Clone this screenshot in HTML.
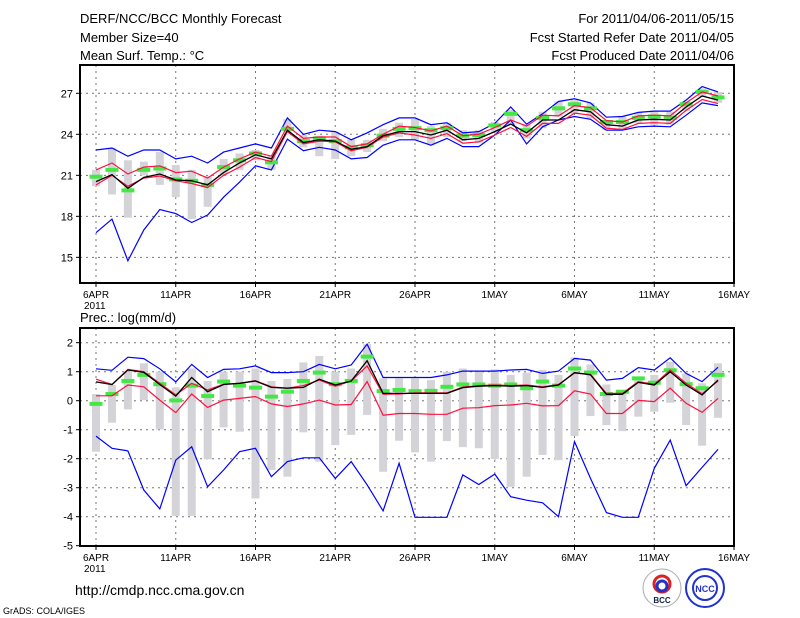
<!DOCTYPE html>
<html><head><meta charset="utf-8"><style>
body{margin:0;background:#fff;}
svg{display:block;font-family:"Liberation Sans",sans-serif;}
</style></head><body>
<svg id="c" width="800" height="618" viewBox="0 0 800 618">
<text x="80" y="23" font-size="13">DERF/NCC/BCC Monthly Forecast</text>
<text x="80" y="42" font-size="13">Member Size=40</text>
<text x="80" y="60" font-size="13">Mean Surf. Temp.: °C</text>
<text x="734" y="23" font-size="13" text-anchor="end">For 2011/04/06-2011/05/15</text>
<text x="734" y="42" font-size="13" text-anchor="end">Fcst Started Refer Date 2011/04/05</text>
<text x="734" y="60" font-size="13" text-anchor="end">Fcst Produced Date 2011/04/06</text>
<text x="80" y="322" font-size="13">Prec.: log(mm/d)</text>
<text x="75" y="595" font-size="14">http://cmdp.ncc.cma.gov.cn</text>
<text x="3" y="614" font-size="9">GrADS: COLA/IGES</text>
<g><circle cx="662" cy="588" r="19" fill="#fff" stroke="#aaa"/><circle cx="662" cy="584" r="8" fill="none" stroke="#d22" stroke-width="3"/><circle cx="662" cy="586" r="5" fill="none" stroke="#23c" stroke-width="3"/><text x="662" y="603" font-size="8" font-weight="bold" text-anchor="middle" fill="#124">BCC</text></g>
<g><circle cx="705" cy="588" r="19" fill="#fff" stroke="#23c" stroke-width="2"/><circle cx="705" cy="588" r="12" fill="none" stroke="#23c" stroke-width="2"/><text x="705" y="592" font-size="9" font-weight="bold" text-anchor="middle" fill="#23c">NCC</text></g>
</svg>
<script>
const days=40;
const xLabels=["6APR","11APR","16APR","21APR","26APR","1MAY","6MAY","11MAY","16MAY"];
const tTicks=[15,18,21,24,27];
const pTicks=[-5,-4,-3,-2,-1,0,1,2];
// Temperature
const tBlueHi=[22.85,23.0,22.4,22.85,22.85,22.2,22.4,21.9,22.7,23.0,23.3,23.0,25.2,24.0,24.3,24.2,23.6,24.1,24.7,25.2,25.2,24.7,24.85,24.1,24.2,24.8,26.0,24.75,25.5,26.4,26.6,26.3,25.25,25.3,25.6,25.7,25.7,26.5,27.5,27.1];
const tBlueLo=[16.8,17.8,14.75,17.0,18.5,18.2,17.55,18.1,19.4,20.5,21.7,21.4,23.65,22.8,23.05,22.85,22.2,22.3,23.2,23.6,23.6,23.2,23.7,23.1,23.1,23.95,25.05,23.3,24.55,25.05,25.3,25.1,24.3,24.3,24.55,24.6,24.55,25.4,26.3,26.1];
const tRedHi=[21.4,21.9,21.1,21.6,21.7,21.2,21.3,20.8,21.6,22.2,22.7,22.4,24.6,23.7,23.8,23.8,23.1,23.3,24.0,24.6,24.5,24.25,24.6,23.9,24.0,24.5,25.05,24.6,25.4,25.35,26.1,25.95,25.0,24.9,25.35,25.4,25.35,26.3,27.1,26.8];
const tRedLo=[20.3,21.0,20.2,20.8,20.95,20.6,20.4,20.1,21.0,21.6,22.3,22.0,24.2,23.3,23.5,23.45,22.8,23.05,23.8,24.1,23.95,23.7,24.05,23.35,23.45,23.95,24.5,23.85,24.8,24.8,25.55,25.4,24.45,24.35,24.8,24.85,24.8,25.75,26.55,26.25];
const tMean=[20.54,21.05,20.05,20.85,21.1,20.66,20.6,20.3,21.2,21.9,22.5,22.2,24.3,23.4,23.6,23.5,22.9,23.1,23.9,24.2,24.2,23.95,24.3,23.6,23.7,24.2,24.75,24.1,25.05,25.05,25.8,25.65,24.7,24.6,25.05,25.1,25.05,26.0,26.8,26.5];
const tObs=[20.9,21.4,19.9,21.4,21.5,20.7,20.6,20.3,21.6,22.1,22.6,21.95,24.4,23.5,23.7,23.5,23.05,23.2,23.9,24.4,24.45,24.3,24.45,23.9,23.95,24.65,25.5,24.3,25.2,25.9,26.2,25.9,24.9,24.9,25.2,25.3,25.2,26.2,27.1,26.7];
const tBarHi=[21.4,23.0,22.1,22.0,22.7,21.75,21.4,20.95,22.2,22.6,22.85,22.4,25.1,23.95,23.9,24.2,23.6,23.6,24.4,24.85,25.1,24.6,24.85,24.3,24.3,24.9,25.8,24.75,25.65,26.4,26.5,26.3,24.95,25.3,25.6,25.7,25.65,26.4,27.35,27.1];
const tBarLo=[20.2,19.6,17.9,21.0,20.3,19.4,17.8,18.7,21.0,21.4,22.1,21.4,24.2,23.05,22.4,22.2,22.4,22.7,23.5,23.8,23.6,23.3,23.8,23.5,23.35,24.2,24.7,23.7,24.45,25.3,25.5,25.15,24.3,24.3,24.85,24.7,24.7,25.7,26.75,26.3];
// Precipitation
const pBlueHi=[1.1,1.05,1.5,1.45,1.1,0.65,1.25,0.8,1.08,1.1,1.2,0.97,0.97,1.0,1.25,1.1,1.23,1.95,0.8,0.8,0.8,0.8,0.89,1.02,1.02,1.02,1.06,1.08,0.94,1.02,1.46,1.4,0.71,0.77,1.14,1.06,1.48,0.94,0.66,1.15];
const pBlueLo=[-1.22,-1.64,-1.73,-3.08,-3.73,-2.05,-1.59,-2.97,-2.39,-1.76,-1.64,-2.62,-2.1,-1.97,-1.97,-2.68,-2.1,-2.9,-3.8,-2.16,-4.02,-4.02,-4.02,-2.56,-2.89,-2.53,-3.31,-3.43,-3.52,-4.0,-1.41,-2.68,-3.86,-4.02,-4.02,-2.33,-1.36,-2.93,-2.3,-1.68];
const pRedHi=[0.74,0.56,1.08,1.0,0.6,0.2,0.6,0.37,0.57,0.6,0.69,0.48,0.43,0.52,0.71,0.5,0.68,1.2,0.22,0.23,0.27,0.27,0.27,0.47,0.52,0.54,0.52,0.54,0.48,0.56,0.95,0.91,0.25,0.25,0.66,0.57,1.06,0.6,0.24,0.68];
const pRedLo=[0.17,0.17,0.54,0.48,0.02,-0.41,0.23,-0.23,0.02,0.08,0.14,-0.11,-0.2,-0.11,0.02,-0.15,-0.13,0.66,-0.5,-0.44,-0.44,-0.47,-0.47,-0.26,-0.24,-0.17,-0.15,-0.09,-0.18,-0.17,0.34,0.23,-0.44,-0.44,0.01,-0.03,0.43,-0.09,-0.4,0.08];
const pMean=[0.65,0.56,1.06,0.98,0.56,0.16,0.8,0.31,0.56,0.6,0.68,0.46,0.43,0.46,0.74,0.54,0.68,1.38,0.25,0.25,0.25,0.25,0.25,0.45,0.5,0.52,0.5,0.52,0.46,0.54,0.97,0.89,0.22,0.22,0.63,0.54,1.0,0.54,0.2,0.71];
const pObs=[-0.11,0.23,0.68,0.89,0.57,0.01,0.52,0.16,0.66,0.52,0.45,0.14,0.31,0.68,0.97,0.57,0.68,1.52,0.33,0.37,0.33,0.34,0.48,0.56,0.56,0.52,0.56,0.43,0.66,0.52,1.11,0.97,0.23,0.31,0.77,0.62,1.05,0.57,0.43,0.89];
const pBarHi=[0.23,0.54,1.0,1.29,1.0,0.46,1.11,0.68,1.0,1.0,1.11,0.68,0.75,1.32,1.54,1.0,1.11,1.95,0.77,0.77,0.77,0.71,1.0,1.11,1.0,1.08,0.89,0.97,1.06,0.89,1.49,1.25,0.56,0.37,0.77,0.89,1.34,0.94,0.6,1.29];
const pBarLo=[-1.76,-0.76,-0.3,0.02,-0.99,-3.97,-3.97,-2.02,-0.92,-1.07,-3.37,-2.39,-2.62,-1.09,-2.1,-1.53,-1.18,-0.49,-2.45,-1.38,-1.78,-2.1,-1.39,-1.6,-1.64,-2.01,-2.97,-2.62,-1.87,-2.05,-1.22,-0.53,-0.84,-1.05,-0.55,-0.38,-0.07,-0.84,-1.55,-0.59];

const svg=document.getElementById('c');
const NS='http://www.w3.org/2000/svg';
function mk(tag,attrs,parent){const e=document.createElementNS(NS,tag);for(const k in attrs)e.setAttribute(k,attrs[k]);(parent||svg).appendChild(e);return e;}
const X0=96,DX=(734-96)/40;
function xs(i){return X0+i*DX;}

function panel(cfg){
  const g=mk('g',{});
  
  
  const ys=v=>cfg.y0+(cfg.v0-v)*cfg.k;
  // gridlines
  cfg.ticks.forEach(t=>{
    const y=ys(t);
    if(y>cfg.top+2&&y<cfg.bot-2){const l=mk('line',{x1:80,x2:734,y1:y,y2:y,stroke:'#777','stroke-dasharray':'2,4'},g);
      
      }
    const tl=mk('line',{x1:76,x2:80,y1:y,y2:y,stroke:'#000'},g);
    
    
    const tx=mk('text',{x:73,y:y+4,'font-size':11,'text-anchor':'end'},g);
    tx.textContent=t;
    
    
  });
  xLabels.forEach((s,j)=>{
    const x=xs(j*5);
    if(j>0&&j<8){const l=mk('line',{x1:x,x2:x,y1:cfg.top,y2:cfg.bot,stroke:'#777','stroke-dasharray':'2,4'},g);
      
      }
    else if(j==0){const l=mk('line',{x1:x,x2:x,y1:cfg.top,y2:cfg.bot,stroke:'#777','stroke-dasharray':'2,4'},g);
      
      }
    const tk=mk('line',{x1:x,x2:x,y1:cfg.bot,y2:cfg.bot+4,stroke:'#000'},g);
    
    
    const tx=mk('text',{x:x,y:cfg.bot+15,'font-size':10,'text-anchor':'middle'},g);
    tx.textContent=s;
    
    
  });
  const yr=mk('text',{x:84,y:cfg.bot+26,'font-size':10},g);
  yr.textContent='2011';
  
  
  // bars
  cfg.barHi.forEach((v,i)=>{
    const y1=ys(v),y2=ys(cfg.barLo[i]);
    const r=mk('rect',{x:xs(i)-4,y:y1,width:8,height:Math.max(1,y2-y1),fill:'#d3d3d8'},g);
    
    
  });
  function line(arr,color,w,name){
    const p=mk('polyline',{points:arr.map((v,i)=>xs(i).toFixed(1)+','+ys(v).toFixed(1)).join(' '),fill:'none',stroke:color,'stroke-width':w},g);
    
    
  }
  line(cfg.blueHi,'#0000ff',1.2,'max-line');
  line(cfg.blueLo,'#0000ff',1.2,'min-line');
  cfg.obs.forEach((v,i)=>{
    const r=mk('rect',{x:xs(i)-6.5,y:ys(v)-2,width:13,height:4,fill:'#44e844'},g);
    
    
  });
  line(cfg.redHi,'#ff1040',1.2,'upper-quartile-line');
  line(cfg.redLo,'#ff1040',1.2,'lower-quartile-line');
  line(cfg.mean,'#000',1.3,'ensemble-mean-line');
  const fr=mk('rect',{x:80,y:cfg.top,width:654,height:cfg.bot-cfg.top,fill:'none',stroke:'#000','stroke-width':2},g);
  
  
}
panel({name:'temperature-panel',top:65,bot:283,y0:93.3,v0:27,k:13.67,ticks:tTicks,
  barHi:tBarHi,barLo:tBarLo,blueHi:tBlueHi,blueLo:tBlueLo,redHi:tRedHi,redLo:tRedLo,mean:tMean,obs:tObs});
panel({name:'precipitation-panel',top:328,bot:546,y0:342.7,v0:2,k:29.0,ticks:pTicks,
  barHi:pBarHi,barLo:pBarLo,blueHi:pBlueHi,blueLo:pBlueLo,redHi:pRedHi,redLo:pRedLo,mean:pMean,obs:pObs});
</script>
</body></html>
